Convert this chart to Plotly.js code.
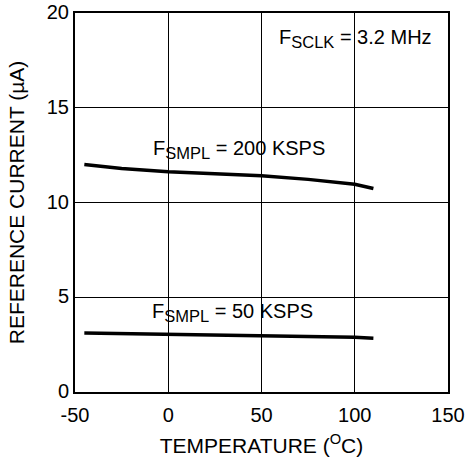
<!DOCTYPE html>
<html>
<head>
<meta charset="utf-8">
<script src="https://cdn.plot.ly/plotly-3.0.1.min.js"></script>
<style>html,body{margin:0;padding:0;background:#fff;}#chart{width:466px;height:458px;}</style>
</head>
<body>
<div id="chart"></div>
<script>
const temps200 = [-45, -25, 0, 50, 75, 100, 110];
const current200 = [12.0, 11.8, 11.62, 11.41, 11.22, 10.96, 10.74];
const temps50 = [-45, 0, 50, 100, 110];
const current50 = [3.12, 3.05, 2.99, 2.89, 2.84];
const xTicks = [-50, 0, 50, 100, 150];
const yTicks = [0, 5, 10, 15, 20];

const font = 'Liberation Sans, Arial, sans-serif';
const sub = s => '<sub><span style="font-size:16.5px">' + s + '</span></sub>';

const traces = [
  {x: temps200, y: current200, mode: 'lines', line: {color: '#000', width: 3.5}, hoverinfo: 'skip'},
  {x: temps50, y: current50, mode: 'lines', line: {color: '#000', width: 3.5}, hoverinfo: 'skip'}
];

const layout = {
  width: 466, height: 458,
  margin: {l: 75, r: 17.5, t: 13, b: 66.3},
  paper_bgcolor: '#fff', plot_bgcolor: '#fff',
  showlegend: false,
  font: {family: font, color: '#000', size: 20},
  xaxis: {
    range: [-50, 150], tickvals: xTicks, ticktext: xTicks.map(String),
    showgrid: true, gridcolor: '#000', gridwidth: 1,
    showline: true, linecolor: '#000', linewidth: 2, mirror: true,
    zeroline: false, ticks: '', tickfont: {size: 20}, ticklabelstandoff: 4,
    title: {text: 'TEMPERATURE (<sup>O</sup>C)', font: {size: 21}, standoff: 13}
  },
  yaxis: {
    range: [0, 20], tickvals: yTicks, ticktext: yTicks.map(String),
    showgrid: true, gridcolor: '#000', gridwidth: 1,
    showline: true, linecolor: '#000', linewidth: 2, mirror: true,
    zeroline: false, ticks: '', tickfont: {size: 20}, ticklabelshift: -1,
    ticklabeloverflow: 'allow',
    title: {text: 'REFERENCE CURRENT (µA)', font: {size: 21}, standoff: 16}
  },
  annotations: [
    {x: -9, y: 12.82, xref: 'x', yref: 'y', xanchor: 'left', yanchor: 'middle', showarrow: false,
     text: 'F' + sub('SMPL') + ' = 200 KSPS', font: {size: 20}},
    {x: -9.8, y: 4.17, xref: 'x', yref: 'y', xanchor: 'left', yanchor: 'middle', showarrow: false,
     text: 'F' + sub('SMPL') + ' = 50 KSPS', font: {size: 20}},
    {x: 58.2, y: 18.64, xref: 'x', yref: 'y', xanchor: 'left', yanchor: 'middle', showarrow: false,
     text: 'F' + sub('SCLK') + ' = 3.2 MHz', font: {size: 20}}
  ]
};

Plotly.newPlot('chart', traces, layout, {staticPlot: true});
</script>
</body>
</html>
